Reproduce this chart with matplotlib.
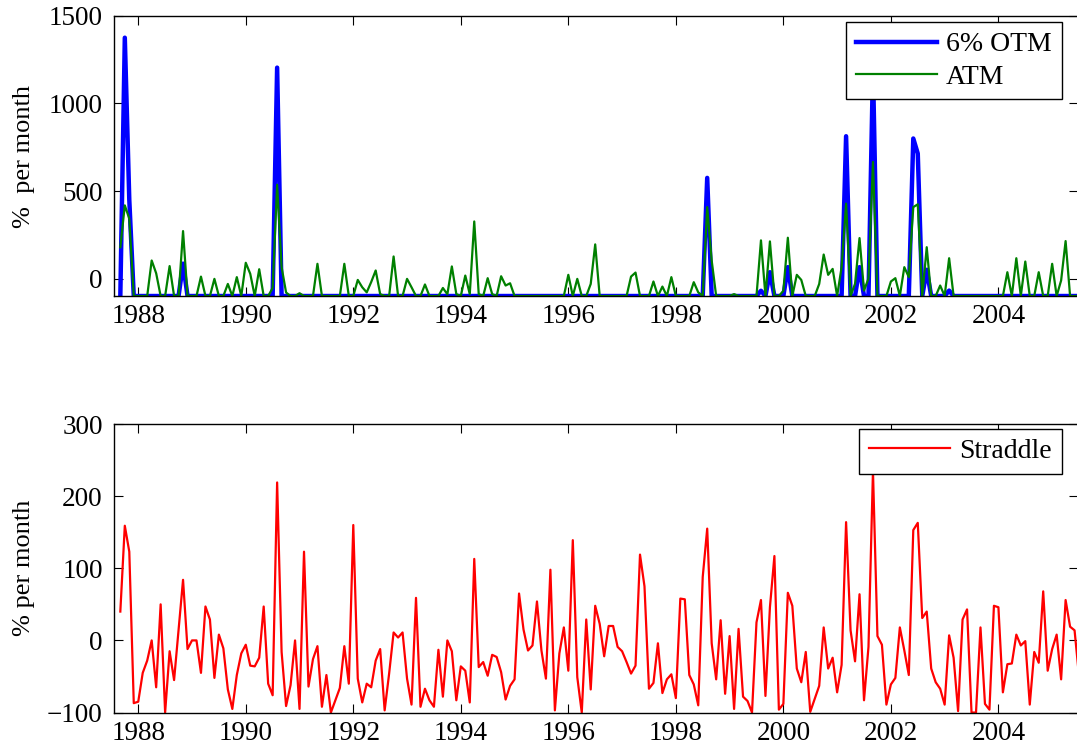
import numpy as np
import matplotlib
matplotlib.use("Agg")
import matplotlib.pyplot as plt

plt.rcParams['font.family'] = ['Liberation Serif', 'DejaVu Serif']

# monthly returns, Sep 1987 onwards (% per month)
start_year = 1987 + 8 / 12

otm6 = [-100] * 215
for k, v in {1: 1376, 2: 450, 14: 85, 35: 1205, 131: 575, 143: -70, 145: 36,
             149: 65, 162: 813, 165: 65, 168: 1200, 177: 800, 178: 714,
             180: 50, 185: -69}.items():
    otm6[k] = v

atm = [179, 418, 342, -100, -100, -100, -100, 103, 30, -100,
       -100, 71, -100, -100, 271, -100, -100, -100, 11, -100,
       -100, -2, -100, -100, -31, -100, 8, -100, 90, 27,
       -100, 53, -100, -100, -54, 536, 65, -80, -100, -100,
       -84, -100, -100, -100, 84, -100, -100, -100, -100, -100,
       84, -100, -100, -8, -50, -79, -20, 46, -89, -100,
       -100, 126, -100, -100, -2, -50, -100, -100, -34, -100,
       -100, -100, -54, -90, 69, -89, -100, 17, -89, 326,
       -89, -100, 2, -89, -100, 13, -40, -27, -100, -100,
       -100, -100, -100, -100, -100, -100, -100, -100, -100, -100,
       21, -100, -2, -100, -100, -31, 195, -100, -100, -100,
       -100, -100, -100, -100, 11, 34, -100, -100, -100, -17,
       -100, -46, -100, 8, -100, -100, -100, -100, -21, -79,
       -100, 408, 103, -100, -100, -100, -100, -89, -100, -100,
       -100, -100, -100, 218, -100, 212, -100, -100, -70, 233,
       -100, 21, -8, -100, -100, -100, -31, 137, 21, 55,
       -100, 65, 428, -100, -30, 231, -69, 0, 666, -100,
       -100, -100, -17, 2, -100, 65, 8, 408, 424, -100,
       179, -100, -100, -40, -100, 116, -100, -100, -100, -100,
       -100, -100, -100, -100, -100, -100, -100, -100, 36, -100,
       116, -100, 97, -100, -100, 36, -100, -100, 84, -100,
       -11, 214, -100, -100, -100]

straddle = [40, 159, 123, -87, -85, -45, -28, 0, -65, 50,
            -100, -15, -55, 15, 84, -12, 0, 0, -45, 47,
            29, -52, 8, -11, -68, -95, -48, -18, -6, -35,
            -36, -24, 47, -60, -76, 219, -16, -91, -62, 0,
            -95, 123, -64, -26, -8, -92, -48, -100, -83, -66,
            -8, -60, 160, -53, -86, -60, -65, -28, -12, -97,
            -46, 11, 4, 11, -53, -89, 59, -92, -67, -83,
            -92, -13, -78, 0, -15, -83, -36, -42, -86, 113,
            -37, -30, -49, -20, -23, -44, -82, -63, -54, 65,
            15, -14, -7, 54, -14, -53, 98, -97, -18, 18,
            -42, 139, -51, -100, 29, -68, 48, 23, -22, 20,
            20, -9, -15, -30, -46, -35, 119, 75, -67, -59,
            -4, -73, -54, -47, -80, 58, 57, -48, -61, -90,
            88, 155, -4, -54, 28, -74, 6, -95, 16, -78,
            -84, -100, 25, 56, -77, 46, 117, -96, -88, 66,
            48, -39, -58, -16, -99, -81, -63, 18, -39, -24,
            -72, -34, 164, 14, -29, 64, -83, -9, 235, 6,
            -6, -89, -61, -52, 18, -14, -48, 153, 163, 31,
            40, -39, -58, -67, -89, 7, -24, -98, 29, 43,
            -100, -100, 18, -88, -96, 48, 46, -72, -33, -32,
            8, -7, -1, -89, -16, -31, 68, -42, -12, 8,
            -54, 56, 19, 14, -50]

years = start_year + np.arange(len(straddle)) / 12
year_ticks = list(range(1988, 2005, 2))

fig = plt.figure(figsize=(10.77, 7.54), dpi=100)
ax1 = fig.add_axes([0.1058, 0.6074, 0.8951, 0.3714])
ax2 = fig.add_axes([0.1058, 0.0550, 0.8951, 0.3826])

ax1.plot(years, otm6, color=(0, 0, 1), lw=3.2, label='6% OTM')
ax1.plot(years, atm, color=(0, 0.5, 0), lw=1.6, label='ATM')
ax1.set_ylim(-100, 1500)
ax1.set_yticks([0, 500, 1000, 1500])
ax1.set_ylabel('%  per month', fontsize=19)

ax2.plot(years, straddle, color=(1, 0, 0), lw=1.6, label='Straddle')
ax2.set_ylim(-100, 300)
ax2.set_yticks([-100, 0, 100, 200, 300])
ax2.set_ylabel('% per month', fontsize=19)

for ax in (ax1, ax2):
    ax.set_xlim(1987.548, 2005.48)
    ax.set_xticks(year_ticks)
    ax.tick_params(direction='in', length=6.5, width=0.8, labelsize=19.5,
                   top=True, right=True, pad=6)
    ax.tick_params(axis='y', pad=8)
    for s in ax.spines.values():
        s.set_linewidth(1.0)
    ax.yaxis.set_label_coords(-0.082, 0.5)
    leg = ax.legend(loc='upper right', bbox_to_anchor=(0.983, 0.978 if ax is ax1 else 0.983),
                    borderaxespad=0, fontsize=20, fancybox=False, framealpha=1,
                    edgecolor='black', handlelength=2.9, handletextpad=0.35,
                    labelspacing=0.25, borderpad=0.35)
    leg.get_frame().set_linewidth(1.0)

fig.savefig('out.png', dpi=100)
